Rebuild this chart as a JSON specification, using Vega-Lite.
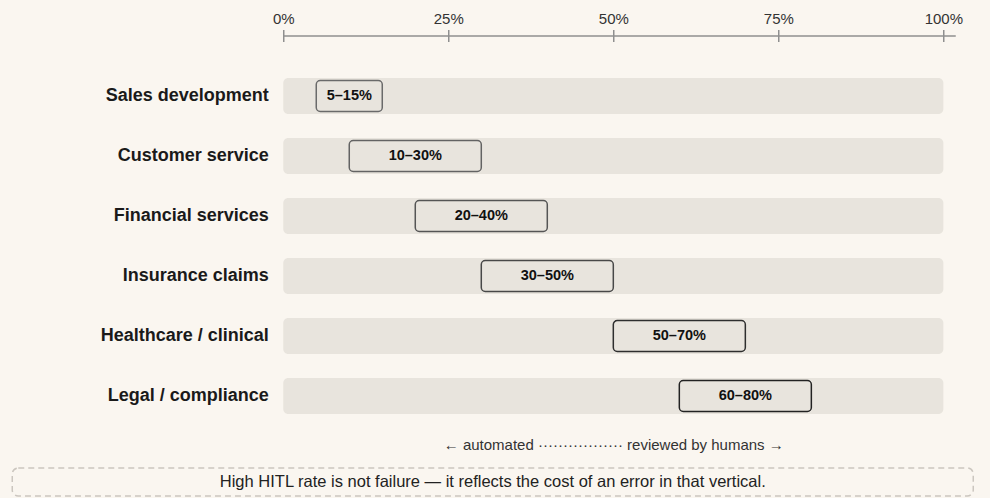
{
  "$schema": "https://vega.github.io/schema/vega-lite/v6.json",
  "background": "#faf6f0",
  "padding": {"left": 11.25, "top": 11, "right": 16, "bottom": 2},
  "config": {"view": {"stroke": null}, "font": "Liberation Sans"},
  "datasets": {
    "rows": [
      {"vertical": "Sales development", "lo": 5, "hi": 15, "label": "5–15%"},
      {"vertical": "Customer service", "lo": 10, "hi": 30, "label": "10–30%"},
      {"vertical": "Financial services", "lo": 20, "hi": 40, "label": "20–40%"},
      {"vertical": "Insurance claims", "lo": 30, "hi": 50, "label": "30–50%"},
      {"vertical": "Healthcare / clinical", "lo": 50, "hi": 70, "label": "50–70%"},
      {"vertical": "Legal / compliance", "lo": 60, "hi": 80, "label": "60–80%"}
    ]
  },
  "bounds": "full",
  "spacing": 15,
  "vconcat": [
    {
      "bounds": "flush",
      "spacing": 0,
      "hconcat": [
        {
          "width": 271,
          "height": 360,
          "data": {"values": [{}]},
          "mark": {"type": "point", "opacity": 0, "size": 0},
          "encoding": {}
        },
        {
          "width": 672,
          "height": 360,
          "data": {"name": "rows"},
          "encoding": {
            "y": {
              "field": "vertical",
              "type": "nominal",
              "sort": null,
              "scale": {"paddingInner": 0.4, "paddingOuter": 0.2},
              "axis": {
                "title": null,
                "domain": false,
                "ticks": false,
                "labelPadding": 15,
                "labelFontSize": 18,
                "labelFontWeight": "bold",
                "labelColor": "#1a1a1a",
                "labelLimit": 400
              }
            }
          },
          "layer": [
            {
              "mark": {"type": "bar", "color": "#e8e4dd", "cornerRadius": 5},
              "encoding": {
                "x": {
                  "datum": 0,
                  "type": "quantitative",
                  "scale": {"domain": [0, 101.8], "nice": false, "zero": false},
                  "axis": {
                    "orient": "top",
                    "offset": 30.5,
                    "values": [0, 25, 50, 75, 100],
                    "labelExpr": "datum.value + '%'",
                    "tickSize": 6,
                    "tickColor": "#8f8f8f",
                    "tickWidth": 1.5,
                    "domainColor": "#8f8f8f",
                    "domainWidth": 1.5,
                    "labelFontSize": 15,
                    "labelColor": "#333333",
                    "labelPadding": 3,
                    "labelFlush": false,
                    "grid": false,
                    "title": null
                  }
                },
                "x2": {"datum": 100}
              }
            },
            {
              "mark": {"type": "bar", "fill": "#e8e4dd", "strokeWidth": 1.5, "cornerRadius": 4, "height": {"band": 0.86}},
              "encoding": {
                "x": {
                  "field": "lo",
                  "type": "quantitative",
                  "axis": {
                    "orient": "top",
                    "offset": 30.5,
                    "values": [0, 25, 50, 75, 100],
                    "labels": false,
                    "domain": false,
                    "tickSize": -6,
                    "tickColor": "#8f8f8f",
                    "tickWidth": 1.5,
                    "grid": false,
                    "title": null
                  }
                },
                "x2": {"field": "hi"},
                "stroke": {"field": "lo", "type": "quantitative", "scale": {"range": ["#6a6a6a", "#222222"]}, "legend": null}
              }
            },
            {
              "transform": [{"fold": ["lo", "hi"], "as": ["end", "pct"]}],
              "mark": {"type": "text", "fontWeight": "bold", "fontSize": 14.5, "color": "#111111"},
              "encoding": {
                "x": {
                  "aggregate": "mean",
                  "field": "pct",
                  "type": "quantitative",
                  "axis": {
                    "orient": "bottom",
                    "labels": false,
                    "ticks": false,
                    "domain": false,
                    "grid": false,
                    "title": "← automated ················· reviewed by humans →",
                    "titleFontSize": 15,
                    "titleFontWeight": "normal",
                    "titleColor": "#333333",
                    "titlePadding": 11,
                    "titleX": 330
                  }
                },
                "text": {"field": "label"}
              }
            }
          ],
          "resolve": {"axis": {"x": "independent"}}
        }
      ]
    },
    {
      "width": 961,
      "height": 28,
      "view": {"stroke": "#cbc6bf", "strokeWidth": 1.5, "strokeDash": [6, 4], "cornerRadius": 6},
      "data": {"values": [{"note": "High HITL rate is not failure — it reflects the cost of an error in that vertical."}]},
      "mark": {"type": "text", "fontSize": 16.5, "color": "#222222"},
      "encoding": {"text": {"field": "note"}}
    }
  ]
}
